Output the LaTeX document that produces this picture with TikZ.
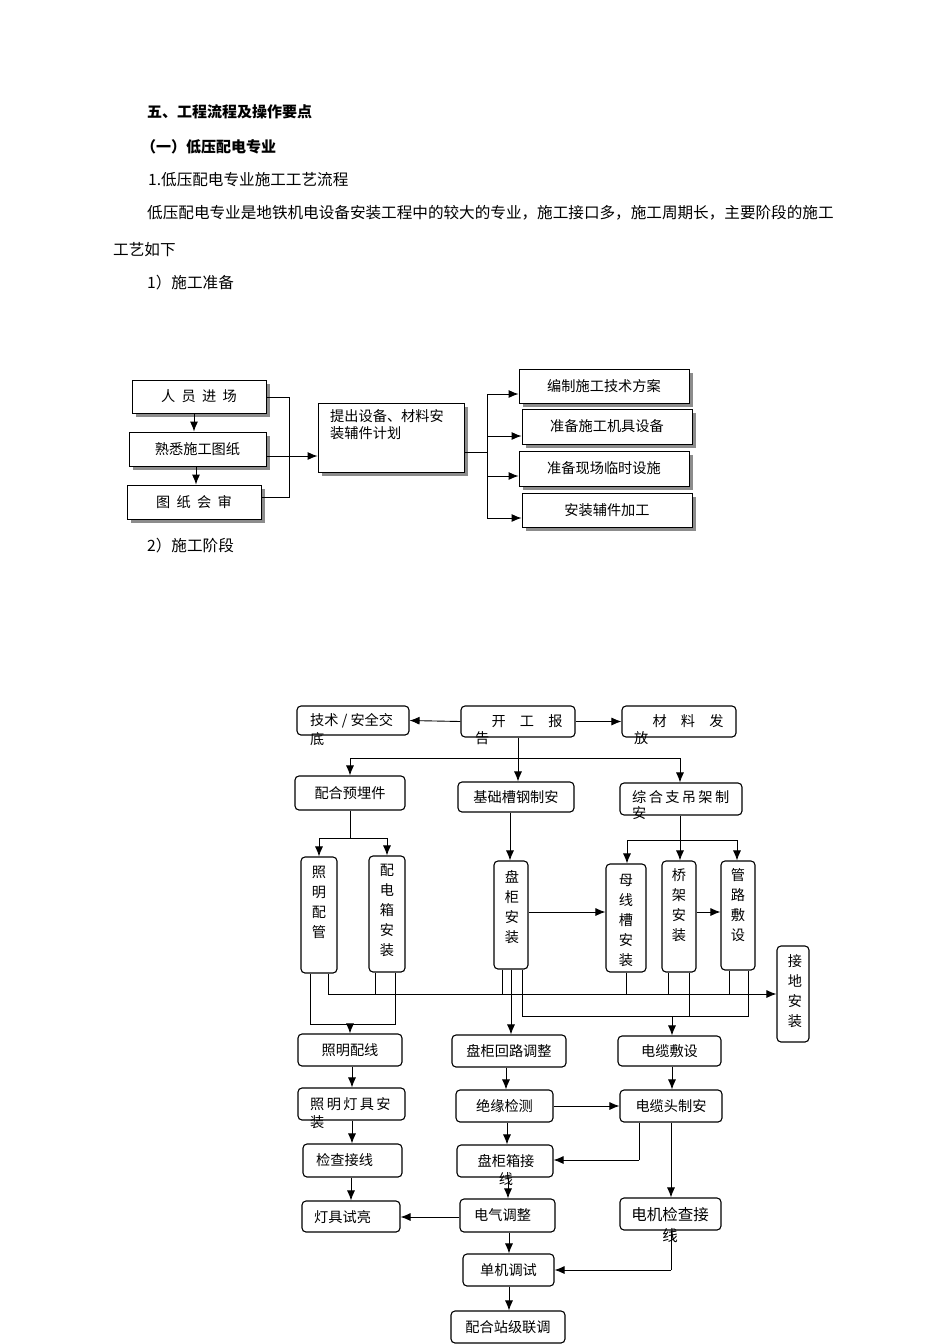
\documentclass[tikz,border=0pt]{standalone}
\usepackage{fontspec}
\setmainfont{Noto Sans CJK SC}
\usetikzlibrary{arrows.meta}
\tikzset{
  every node/.style={font=\fontsize{14.2}{20}\selectfont, inner sep=0pt},
  body/.style={anchor=west, font=\fontsize{15.6}{18}\selectfont},
  sbox/.style={draw, line width=0.9pt, fill=white},
  shad/.style={fill=black!45},
  rbox/.style={draw, line width=1.1pt, rounded corners=4pt},
  ln/.style={line width=0.9pt},
  ar/.style={line width=0.9pt, -{Latex[length=10pt,width=8pt]}},
}
\newcommand\rndbox[6]{\node[rbox, minimum width=#4pt-#2pt, minimum height=#5pt-#3pt] (#1) at ({(#2+#4)/2},{(#3+#5)/2}) {#6};}
\newcommand\shbox[6]{\fill[shad] (#2+4,#3+4) rectangle (#4+4,#5+4);
  \node[sbox, minimum width=#4pt-#2pt, minimum height=#5pt-#3pt] (#1) at ({(#2+#4)/2},{(#3+#5)/2}) {#6};}
\begin{document}
\begin{tikzpicture}[x=1pt,y=-1pt]
\useasboundingbox (0,0) rectangle (950,1344);
\fill[white] (0,0) rectangle (950,1344);
\node[body,font=\fontsize{15}{18}\selectfont\bfseries] (t1) at (147,112) {五、工程流程及操作要点};
\node[body,font=\fontsize{15}{18}\selectfont\bfseries] (t2) at (141,147) {（一）低压配电专业};
\node[body] (t3) at (148,180) {1.低压配电专业施工工艺流程};
\node[body] (t4) at (147,213) {低压配电专业是地铁机电设备安装工程中的较大的专业，施工接口多，施工周期长，主要阶段的施工};
\node[body] (t5) at (113,250) {工艺如下};
\node[body] (t6) at (147,283) {1）施工准备};
\node[body] (t7) at (147,546) {2）施工阶段};
% ---- top diagram
\shbox{a1}{132}{380}{266}{413}{人\ \ 员\ \ 进\ \ 场}
\shbox{a2}{129}{432}{266}{466}{熟悉施工图纸}
\shbox{a3}{127}{485}{261}{519}{图\ \ 纸\ \ 会\ \ 审}
\shbox{b}{318}{403}{464}{472}{}
\node[anchor=north west, align=left, font=\fontsize{14.2}{17}\selectfont] (bt) at (330,409) {提出设备、材料安\\装辅件计划};
\shbox{c1}{519}{369}{689}{403}{编制施工技术方案}
\shbox{c2}{522}{409}{692}{444}{准备施工机具设备}
\shbox{c3}{519}{451}{689}{486}{准备现场临时设施}
\shbox{c4}{522}{493}{692}{527}{安装辅件加工}
\draw[ar] (194,413) -- (a2.north -| 194,0);
\draw[ar] (196,466) -- (a3.north -| 196,0);
\draw[ln] (a1.east |- 0,397) -- (289,397) -- (289,497) -- (a3.east |- 0,497);
\draw[ar] (a2.east |- 0,456) -- (b.west |- 0,456);
\draw[ln] (b.east |- 0,452) -- (487,452);
\draw[ln] (487,394) -- (487,518);
\draw[ar] (487,394) -- (c1.west |- 0,394);
\draw[ar] (487,436) -- (c2.west |- 0,436);
\draw[ar] (487,476) -- (c3.west |- 0,476);
\draw[ar] (487,518) -- (c4.west |- 0,518);
% ---- bottom diagram
\rndbox{jsjd}{297}{706}{409}{735}{}
\node[anchor=west] (jsjdt) at (310,721) {技术 / 安全交};
\node[anchor=west] (jsjd2) at (310,739) {底};
\rndbox{kg}{461}{706}{575}{737}{}
\node (kgt) at (527,721) {开\quad 工\quad 报};
\node[anchor=west] (kg2) at (475,738) {告};
\rndbox{clff}{622}{706}{736}{737}{}
\node (cft) at (688,721) {材\quad 料\quad 发};
\node[anchor=west] (cf2) at (634,738) {放};
\draw[ar] (kg.west) -- (jsjd.east);
\draw[ar] (kg.east) -- (clff.west);
\rndbox{phyj}{295}{776}{405}{810}{配合预埋件}
\rndbox{jccg}{458}{782}{574}{812}{基础槽钢制安}
\rndbox{zhzd}{620}{783}{742}{815}{}
\node[anchor=west] (zht) at (632,797) {综\,合\,支\,吊\,架\,制};
\node[anchor=west] (zh2) at (632,813) {安};
\draw[ln] (kg.south -| 518,0) -- (518,758);
\draw[ln] (350,758) -- (680,758);
\draw[ar] (350,758) -- (phyj.north -| 350,0);
\draw[ar] (518,758) -- (jccg.north -| 518,0);
\draw[ar] (680,758) -- (zhzd.north -| 680,0);
\rndbox{zmpg}{301}{857}{337}{973}{}
\node[anchor=north,align=center] (zmpgt) at (319,866) {照\\明\\配\\管};
\rndbox{pdx}{369}{856}{405}{972}{}
\node[anchor=north,align=center] (pdxt) at (387,864) {配\\电\\箱\\安\\装};
\rndbox{pgaz}{494}{861}{528}{969}{}
\node[anchor=north,align=center] (pgazt) at (512,870) {盘\\柜\\安\\装};
\rndbox{mxc}{606}{864}{646}{972}{}
\node[anchor=north,align=center] (mxct) at (626,874) {母\\线\\槽\\安\\装};
\rndbox{qj}{662}{861}{696}{972}{}
\node[anchor=north,align=center] (qjt) at (679,868) {桥\\架\\安\\装};
\rndbox{glfs}{721}{861}{755}{970}{}
\node[anchor=north,align=center] (glfst) at (738,868) {管\\路\\敷\\设};
\rndbox{jdaz}{777}{946}{809}{1042}{}
\node[anchor=north,align=center] (jdazt) at (795,954) {接\\地\\安\\装};
\draw[ln] (phyj.south -| 350,0) -- (350,838);
\draw[ln] (319,838) -- (387,838);
\draw[ar] (319,838) -- (zmpg.north -| 319,0);
\draw[ar] (387,838) -- (pdx.north -| 387,0);
\draw[ar] (jccg.south -| 510,0) -- (pgaz.north -| 510,0);
\draw[ar] (zhzd.south -| 680,0) -- (qj.north -| 680,0);
\draw[ln] (627,840) -- (737,840);
\draw[ar] (627,840) -- (mxc.north -| 627,0);
\draw[ar] (737,840) -- (glfs.north -| 737,0);
\draw[ar] (pgaz.east |- 0,912) -- (mxc.west |- 0,912);
\draw[ar] (qj.east |- 0,912) -- (glfs.west |- 0,912);
\draw[ln] (zmpg.south -| 328,0) -- (328,994);
\draw[ar] (328,994) -- (jdaz.west |- 0,994);
\draw[ln] (pdx.south -| 375,0) -- (375,994);
\draw[ln] (pgaz.south -| 502,0) -- (502,994);
\draw[ln] (mxc.south -| 626,0) -- (626,994);
\draw[ln] (qj.south -| 668,0) -- (668,994);
\draw[ln] (glfs.south -| 729,0) -- (729,994);
\rndbox{zmpx}{298}{1034}{402}{1066}{照明配线}
\draw[ln] (zmpg.south -| 310,0) -- (310,1024) -- (395,1024) -- (pdx.south -| 395,0);
\draw[ar] (350,1024) -- (zmpx.north -| 350,0);
\rndbox{pghl}{452}{1035}{566}{1067}{盘柜回路调整}
\draw[ar] (pgaz.south -| 511,0) -- (pghl.north -| 511,0);
\rndbox{dlfs}{618}{1036}{721}{1066}{电缆敷设}
\draw[ln] (pgaz.south -| 522,0) -- (522,1016) -- (748,1016) -- (glfs.south -| 748,0);
\draw[ln] (qj.south -| 689,0) -- (689,1016);
\draw[ar] (672,1016) -- (dlfs.north -| 672,0);
\rndbox{zmdj}{298}{1088}{405}{1120}{}
\node[anchor=west] (zmdjt) at (310,1104) {照\,明\,灯\,具\,安};
\node[anchor=west] (zmdj2) at (310,1122) {装};
\rndbox{jcjx}{303}{1144}{402}{1177}{}
\node[anchor=west] (jcjxt) at (316,1160) {检查接线};
\rndbox{djsl}{302}{1201}{400}{1232}{}
\node[anchor=west] (djslt) at (314,1217) {灯具试亮};
\draw[ar] (zmpx.south -| 352,0) -- (zmdj.north -| 352,0);
\draw[ar] (zmdj.south -| 352,0) -- (jcjx.north -| 352,0);
\draw[ar] (jcjx.south -| 351,0) -- (djsl.north -| 351,0);
\rndbox{jyjc}{456}{1090}{553}{1122}{绝缘检测}
\rndbox{pgxj}{457}{1145}{553}{1177}{}
\node (pgxjt) at (506,1161) {盘柜箱接};
\node (pgxj2) at (506,1179) {线};
\rndbox{dqtz}{460}{1199}{555}{1232}{}
\node[anchor=west] (dqtzt) at (474,1215) {电气调整};
\rndbox{djts}{463}{1254}{554}{1286}{单机调试}
\rndbox{phzj}{451}{1311}{565}{1343}{配合站级联调}
\draw[ar] (pghl.south -| 506,0) -- (jyjc.north -| 506,0);
\draw[ar] (jyjc.south -| 507,0) -- (pgxj.north -| 507,0);
\draw[ar] (pgxj.south -| 508,0) -- (dqtz.north -| 508,0);
\draw[ar] (dqtz.south -| 509,0) -- (djts.north -| 509,0);
\draw[ar] (djts.south -| 509,0) -- (phzj.north -| 509,0);
\draw[ar] (dqtz.west |- 0,1217) -- (djsl.east |- 0,1217);
\rndbox{dltz}{620}{1090}{722}{1122}{电缆头制安}
\rndbox{djjc}{620}{1198}{721}{1230}{}
\node (djjct) at (670,1215) {\fontsize{15.5}{18}\selectfont 电机检查接};
\node (djjc2) at (670,1236) {\fontsize{15.5}{18}\selectfont 线};
\draw[ar] (jyjc.east |- 0,1106) -- (dltz.west |- 0,1106);
\draw[ar] (dlfs.south -| 672,0) -- (dltz.north -| 672,0);
\draw[ln] (dltz.south -| 639,0) -- (639,1160);
\draw[ar] (639,1160) -- (pgxj.east |- 0,1160);
\draw[ar] (dltz.south -| 671,0) -- (djjc.north -| 671,0);
\draw[ln] (djjc.south -| 671,0) -- (671,1270);
\draw[ar] (671,1270) -- (djts.east |- 0,1270);
\end{tikzpicture}
\end{document}
